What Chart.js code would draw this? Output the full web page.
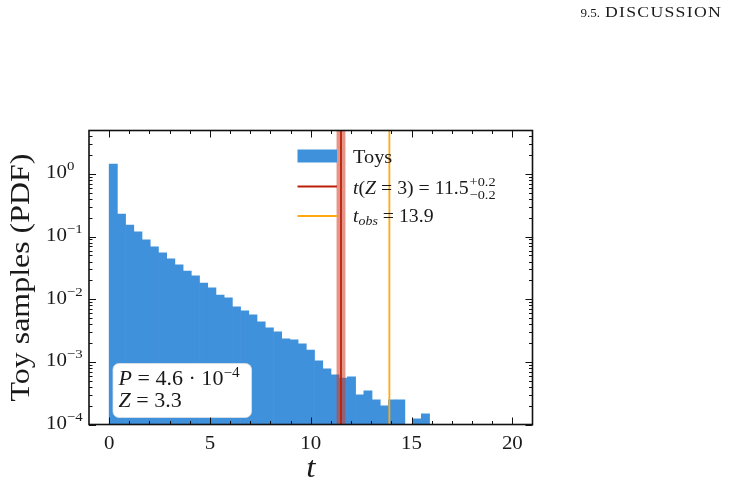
<!DOCTYPE html>
<html>
<head>
<meta charset="utf-8">
<script src="https://cdn.jsdelivr.net/npm/chart.js@4.4.1/dist/chart.umd.min.js"></script>
<style>
  html, body { margin: 0; padding: 0; background: #fff; }
  #wrap { width: 729px; height: 486px; position: relative; }
</style>
</head>
<body>
<div id="wrap"><canvas id="toyChart" width="729" height="486"></canvas></div>
<script>
// histogram bins (centres) and toy PDF values
const binCenters = [
  0.204, 0.611, 1.019, 1.426, 1.834, 2.241, 2.649, 3.056, 3.464, 3.871,
  4.279, 4.686, 5.094, 5.501, 5.909, 6.316, 6.724, 7.131, 7.539, 7.946,
  8.354, 8.761, 9.169, 9.576, 9.984, 10.391, 10.799, 11.206, 11.614, 12.021,
  12.429, 12.836, 13.244, 13.651, 14.059, 14.466, 14.874, 15.281, 15.689,
];
const toyDensity = [
  1.44, 0.230, 0.153, 0.119, 0.0885, 0.0684, 0.0549, 0.044, 0.0353, 0.0283,
  0.0236, 0.0182, 0.0152, 0.0117, 0.0105, 0.00755, 0.00651, 0.00562, 0.00435, 0.00349,
  0.00301, 0.00233, 0.00225, 0.00194, 0.00155, 0.00104, 0.000774, 0.000621, 0.00055, 0.000576,
  0.000298, 0.000345, 0.000248, 0.000199, 0.000248, 0.000248, null, 0.000123, 0.000148,
];
const xTicks = [0, 5, 10, 15, 20];
const yTickExponents = [0, -1, -2, -3, -4];
const tZ3 = 11.5;
const tZ3Band = [11.28, 11.72];
const tObs = 13.9;

const SERIF = '"Liberation Serif", "Times New Roman", serif';
const SX = 1.1; // widen Times a bit towards Computer Modern proportions
const INK = '#1a1a1a';

function font(size, italic) {
  return (italic ? 'italic ' : '') + size + 'px ' + SERIF;
}

// draw a run of text pieces [text, size, italic, dy], returns end x
function drawRun(ctx, x, y, pieces, sx) {
  sx = sx || SX;
  let cx = x;
  pieces.forEach(([t, size, italic, dy]) => {
    ctx.font = font(size, italic);
    ctx.save();
    ctx.translate(cx, y + (dy || 0));
    ctx.scale(sx, 1);
    ctx.fillText(t, 0, 0);
    ctx.restore();
    cx += ctx.measureText(t).width * sx;
  });
  return cx;
}

function runWidth(ctx, pieces, sx) {
  sx = sx || SX;
  let w = 0;
  pieces.forEach(([t, size, italic]) => {
    ctx.font = font(size, italic);
    w += ctx.measureText(t).width * sx;
  });
  return w;
}

const decorations = {
  id: 'decorations',
  afterDatasetsDraw(chart) {
    const { ctx, chartArea: a, scales: { x } } = chart;
    ctx.save();
    ctx.beginPath();
    ctx.rect(a.left, a.top, a.right - a.left, a.bottom - a.top);
    ctx.clip();
    // uncertainty band on t(Z=3)
    const b0 = x.getPixelForValue(tZ3Band[0]);
    const b1 = x.getPixelForValue(tZ3Band[1]);
    ctx.fillStyle = 'rgba(208, 62, 36, 0.55)';
    ctx.fillRect(b0, a.top, b1 - b0, a.bottom - a.top);
    ctx.lineWidth = 1.8;
    ctx.strokeStyle = 'rgb(188, 32, 8)';
    ctx.beginPath();
    ctx.moveTo(x.getPixelForValue(tZ3), a.top);
    ctx.lineTo(x.getPixelForValue(tZ3), a.bottom);
    ctx.stroke();
    ctx.strokeStyle = 'rgb(255, 168, 18)';
    ctx.beginPath();
    ctx.moveTo(x.getPixelForValue(tObs), a.top);
    ctx.lineTo(x.getPixelForValue(tObs), a.bottom);
    ctx.stroke();
    ctx.restore();
  },
  afterDraw(chart) {
    const { ctx, chartArea: a, scales: { x, y } } = chart;
    ctx.save();

    // p-value box
    ctx.fillStyle = '#fff';
    ctx.strokeStyle = 'rgba(225,225,225,0.8)';
    ctx.lineWidth = 1;
    ctx.beginPath();
    ctx.roundRect(113, 363.5, 138.5, 54, 6);
    ctx.fill();
    ctx.stroke();
    ctx.fillStyle = INK;
    ctx.textBaseline = 'alphabetic';
    ctx.textAlign = 'left';
    drawRun(ctx, 118.5, 385, [['P', 21, true], [' = 4.6 \u00b7 10', 21, false], ['\u22124', 14.5, false, -8]], 1.05);
    drawRun(ctx, 118.5, 407, [['Z', 21, true], [' = 3.3', 21, false]], 1.05);

    // legend
    ctx.fillStyle = 'rgb(64, 145, 220)';
    ctx.fillRect(297.5, 149.5, 39.5, 13);
    ctx.lineWidth = 2;
    ctx.strokeStyle = 'rgb(188, 32, 8)';
    ctx.beginPath(); ctx.moveTo(297.5, 186.5); ctx.lineTo(337, 186.5); ctx.stroke();
    ctx.strokeStyle = 'rgb(255, 168, 18)';
    ctx.beginPath(); ctx.moveTo(297.5, 216); ctx.lineTo(337, 216); ctx.stroke();
    ctx.fillStyle = INK;
    drawRun(ctx, 353, 163, [['Toys', 18.5, false]]);
    const ex = drawRun(ctx, 353, 193.5, [['t', 18.5, true], ['(', 18.5, false], ['Z', 18.5, true], [' = 3) = 11.5', 18.5, false]], 1.07);
    drawRun(ctx, ex + 1, 185.5, [['+0.2', 13, false]]);
    drawRun(ctx, ex + 1, 198.5, [['\u22120.2', 13, false]]);
    drawRun(ctx, 353, 221.5, [['t', 18.5, true], ['obs', 13, true, 3.5], [' = 13.9', 18.5, false]], 1.07);

    // frame
    ctx.strokeStyle = '#111';
    ctx.lineWidth = 1.6;
    ctx.strokeRect(a.left, a.top, a.right - a.left, a.bottom - a.top);

    // inward ticks on all four sides
    ctx.lineWidth = 1;
    const tickX = (v, len) => {
      const px = Math.round(x.getPixelForValue(v)) + 0.5;
      ctx.beginPath();
      ctx.moveTo(px, a.bottom); ctx.lineTo(px, a.bottom - len);
      ctx.moveTo(px, a.top); ctx.lineTo(px, a.top + len);
      ctx.stroke();
    };
    const tickY = (v, len) => {
      const py = Math.round(y.getPixelForValue(v)) + 0.5;
      ctx.beginPath();
      ctx.moveTo(a.left, py); ctx.lineTo(a.left + len, py);
      ctx.moveTo(a.right, py); ctx.lineTo(a.right - len, py);
      ctx.stroke();
    };
    for (let v = Math.ceil(x.min) + 1; v < x.max; v++) {
      if (v % 5 !== 0) tickX(v, 3.5);
    }
    xTicks.forEach((v) => tickX(v, 7));
    yTickExponents.forEach((e) => {
      tickY(Math.pow(10, e), 7);
      for (let m = 2; m <= 9; m++) {
        const v = m * Math.pow(10, e);
        if (v < y.max) tickY(v, 3.5);
      }
    });

    // tick labels
    ctx.fillStyle = INK;
    xTicks.forEach((v) => {
      const label = [[String(v), 19, false]];
      const w = runWidth(ctx, label);
      drawRun(ctx, x.getPixelForValue(v) - w / 2, 449, label);
    });
    yTickExponents.forEach((e) => {
      const py = y.getPixelForValue(Math.pow(10, e));
      const exp = e === 0 ? '0' : '\u2212' + Math.abs(e);
      drawRun(ctx, 46, py + 4.5, [['10', 19, false], [exp, 13.5, false, -8]]);
    });

    // axis titles
    const xl = [['t', 30, true]];
    drawRun(ctx, (a.left + a.right) / 2 - runWidth(ctx, xl) / 2, 477, xl);
    ctx.save();
    ctx.translate(29, (a.top + a.bottom) / 2);
    ctx.rotate(-Math.PI / 2);
    const yl = [['Toy samples (PDF)', 28, false]];
    drawRun(ctx, -runWidth(ctx, yl, 1.14) / 2, 0, yl, 1.14);
    ctx.restore();

    // running header of the page
    drawRun(ctx, 580.5, 17, [['9.5.', 13, false]], 1.0);
    ctx.font = font(14, false);
    ctx.letterSpacing = '1px';
    ctx.save();
    ctx.translate(605, 17);
    ctx.scale(117 / ctx.measureText('DISCUSSION').width, 1);
    ctx.fillText('DISCUSSION', 0, 0);
    ctx.restore();
    ctx.letterSpacing = '0px';

    ctx.restore();
  },
};

const chart = new Chart(document.getElementById('toyChart'), {
  type: 'bar',
  data: {
    datasets: [
      {
        label: 'Toys',
        data: binCenters.map((c, i) => ({ x: c, y: toyDensity[i] })),
        backgroundColor: 'rgb(64, 145, 220)',
        borderWidth: 0,
        barPercentage: 1.0,
        categoryPercentage: 1.0,
      },
    ],
  },
  options: {
    responsive: false,
    animation: false,
    layout: { padding: { left: 89, right: 196.5, top: 130.5, bottom: 61.5 } },
    plugins: { legend: { display: false }, tooltip: { enabled: false } },
    scales: {
      x: { type: 'linear', min: -1, max: 21, offset: false, display: false },
      y: { type: 'logarithmic', min: 1e-4, max: 4.95, display: false },
    },
  },
  plugins: [decorations],
});
</script>
</body>
</html>
